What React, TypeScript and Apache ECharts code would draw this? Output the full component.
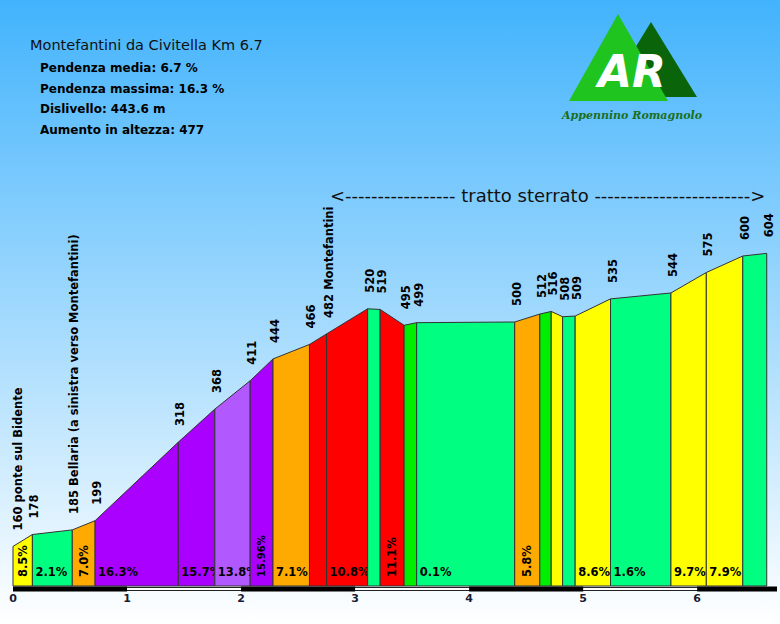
import React, { useEffect, useRef } from 'react';
import * as echarts from 'echarts';

// ---- data ----
const kmPoints = [0, 0.17, 0.52, 0.72, 1.45, 1.77, 2.08, 2.28, 2.6, 2.75, 3.11, 3.22, 3.43, 3.54, 4.4, 4.62, 4.72, 4.82, 4.93, 5.24, 5.77, 6.08, 6.4, 6.61];
const elevations = [160, 178, 185, 199, 318, 368, 411, 444, 466, 482, 520, 519, 495, 499, 500, 512, 516, 508, 509, 535, 544, 575, 600, 604];
const pointNames = ['ponte sul Bidente', '', 'Bellaria (a sinistra verso Montefantini)', '', '', '', '', '', '', 'Montefantini', '', '', '', '', '', '', '', '', '', '', '', '', '', ''];
const slopeLabels = ['8.5%', '2.1%', '7.0%', '16.3%', '15.7%', '13.8%', '15.96%', '7.1%', '', '10.8%', '', '11.1%', '', '0.1%', '5.8%', '', '', '', '8.6%', '1.6%', '9.7%', '7.9%', ''];
const kmTicks = [0, 1, 2, 3, 4, 5, 6];
const titleText = 'Montefantini da Civitella Km 6.7';
const statsLines = ['Pendenza media: 6.7 %', 'Pendenza massima: 16.3 %', 'Dislivello: 443.6 m', 'Aumento in altezza: 477'];
const sterratoText = '<' + '-'.repeat(17) + ' tratto sterrato ' + '-'.repeat(24) + '>';

// ---- styles ----
const YEL = '#ffff00';
const SPG = '#00ff80';
const ORA = '#ffaa00';
const PUR = '#aa00ff';
const LPU = '#b258ff';
const RED = '#ff0000';
const GRN = '#00ee00';
const segmentColors = [YEL, SPG, ORA, PUR, PUR, LPU, PUR, ORA, RED, RED, SPG, RED, GRN, SPG, ORA, GRN, YEL, SPG, YEL, SPG, YEL, YEL, SPG];

const X_MAX = 6.7;
const Y_MIN = 100;
const Y_MAX = 700;
const FF = '"DejaVu Sans", Verdana, sans-serif';

export default function App() {
  const ref = useRef<HTMLDivElement>(null);
  useEffect(() => {
    document.body.style.margin = '0';
    if (!ref.current) return;
    const chart = echarts.init(ref.current, undefined, { renderer: 'svg' });

    const segData = kmPoints.slice(0, -1).map((k, i) => [k, kmPoints[i + 1], elevations[i], elevations[i + 1], i]);
    const ptData = kmPoints.map((k, i) => [k, elevations[i], i]);

    const option: any = {
      animation: false,
      backgroundColor: new echarts.graphic.LinearGradient(0, 0, 0, 1, [
        { offset: 0, color: '#42b3fc' },
        { offset: 1, color: '#ffffff' },
      ]),
      grid: { left: 13, right: 0, top: 190, bottom: 38 },
      xAxis: {
        type: 'value',
        min: 0,
        max: X_MAX,
        interval: 1,
        axisLine: { show: false },
        axisTick: { show: false },
        splitLine: { show: false },
        axisLabel: {
          margin: 7,
          fontFamily: FF,
          fontWeight: 'bold',
          fontSize: 11,
          color: '#1a1a33',
          formatter: (v: number) => (Number.isInteger(v) ? String(v) : ''),
        },
      },
      yAxis: { type: 'value', min: Y_MIN, max: Y_MAX, show: false },
      graphic: [
        { type: 'text', x: 30, y: 45, style: { text: titleText, font: `14.5px ${FF}`, fill: '#111', verticalAlign: 'middle' } },
        ...statsLines.map((t, i) => ({
          type: 'text', x: 40, y: 68 + i * 20.5,
          style: { text: t, font: `bold 12px ${FF}`, fill: '#000', verticalAlign: 'middle' },
        })),
        { type: 'text', x: 330, y: 195, style: { text: sterratoText, font: `18px ${FF}`, fill: '#111', verticalAlign: 'middle' } },
        { type: 'polygon', shape: { points: [[605, 97], [651, 22], [697, 97]] }, style: { fill: '#0a640a' } },
        { type: 'polygon', shape: { points: [[569, 101], [618, 14], [668, 101]] }, style: { fill: '#1fc41f' } },
        { type: 'text', x: 632, y: 71, style: { text: 'AR', font: `italic bold 44px ${FF}`, fill: '#ffffff', align: 'center', verticalAlign: 'middle' } },
        { type: 'text', x: 632, y: 115, style: { text: 'Appennino Romagnolo', font: 'italic bold 11px "DejaVu Serif", serif', fill: '#1b6e1b', align: 'center', verticalAlign: 'middle' } },
      ],
      series: [
        {
          type: 'custom',
          name: 'profilo',
          data: segData,
          z: 2,
          renderItem: (params: any, api: any) => {
            const i = api.value(4);
            const x0 = api.value(0);
            const x1 = api.value(1);
            const p0 = api.coord([x0, api.value(2)]);
            const p1 = api.coord([x1, api.value(3)]);
            const b0 = api.coord([x0, Y_MIN]);
            const b1 = api.coord([x1, Y_MIN]);
            const children: any[] = [
              {
                type: 'polygon',
                shape: { points: [p0, p1, b1, b0] },
                style: { fill: segmentColors[i], stroke: '#333', lineWidth: 1 },
              },
            ];
            const label = slopeLabels[i];
            if (label) {
              const vertical = x1 - x0 < 0.25;
              const size = label.length > 5 ? 10 : 11.5;
              if (vertical) {
                children.push({
                  type: 'text',
                  x: (p0[0] + p1[0]) / 2,
                  y: b0[1] - 9,
                  rotation: Math.PI / 2,
                  style: { text: label, font: `bold ${size}px ${FF}`, fill: '#000', align: 'left', verticalAlign: 'middle' },
                });
              } else {
                children.push({
                  type: 'text',
                  x: p0[0] + 3,
                  y: b0[1] - 14,
                  style: { text: label, font: `bold ${size}px ${FF}`, fill: '#000', align: 'left', verticalAlign: 'middle' },
                });
              }
            }
            return { type: 'group', children };
          },
        },
        {
          type: 'custom',
          name: 'km',
          data: [[0, Y_MIN]],
          z: 3,
          clip: false,
          renderItem: (params: any, api: any) => {
            const s = api.coord([0, Y_MIN]);
            const e = api.coord([X_MAX, Y_MIN]);
            const children: any[] = [
              {
                type: 'rect',
                shape: { x: s[0] + 0.5, y: s[1] + 1.5, width: e[0] - s[0] - 1, height: 3 },
                style: { fill: '#ffffff', stroke: '#222222', lineWidth: 1 },
                z2: 1,
              },
            ];
            kmTicks.forEach((k, i) => {
              if (i % 2 === 1) return;
              const a = api.coord([k, Y_MIN]);
              const b = api.coord([Math.min(k + 1, X_MAX), Y_MIN]);
              children.push({
                type: 'rect',
                shape: { x: a[0], y: a[1] + 0.5, width: b[0] - a[0], height: 5 },
                style: { fill: '#000000' },
                z2: 2,
              });
            });
            return { type: 'group', children };
          },
        },
        {
          type: 'custom',
          name: 'quote',
          data: ptData,
          z: 4,
          renderItem: (params: any, api: any) => {
            const i = api.value(2);
            const p = api.coord([api.value(0), api.value(1)]);
            const name = pointNames[i];
            const text = String(elevations[i]) + (name ? ' ' + name : '');
            return {
              type: 'text',
              x: Math.max(p[0] + 2, 18),
              y: p[1] - 16,
              rotation: Math.PI / 2,
              style: { text, font: `bold 11.5px ${FF}`, fill: '#000', align: 'left', verticalAlign: 'middle' },
            };
          },
        },
      ],
    };
    chart.setOption(option);
    return () => chart.dispose();
  }, []);
  return <div ref={ref} style={{ width: 780, height: 624 }} />;
}
